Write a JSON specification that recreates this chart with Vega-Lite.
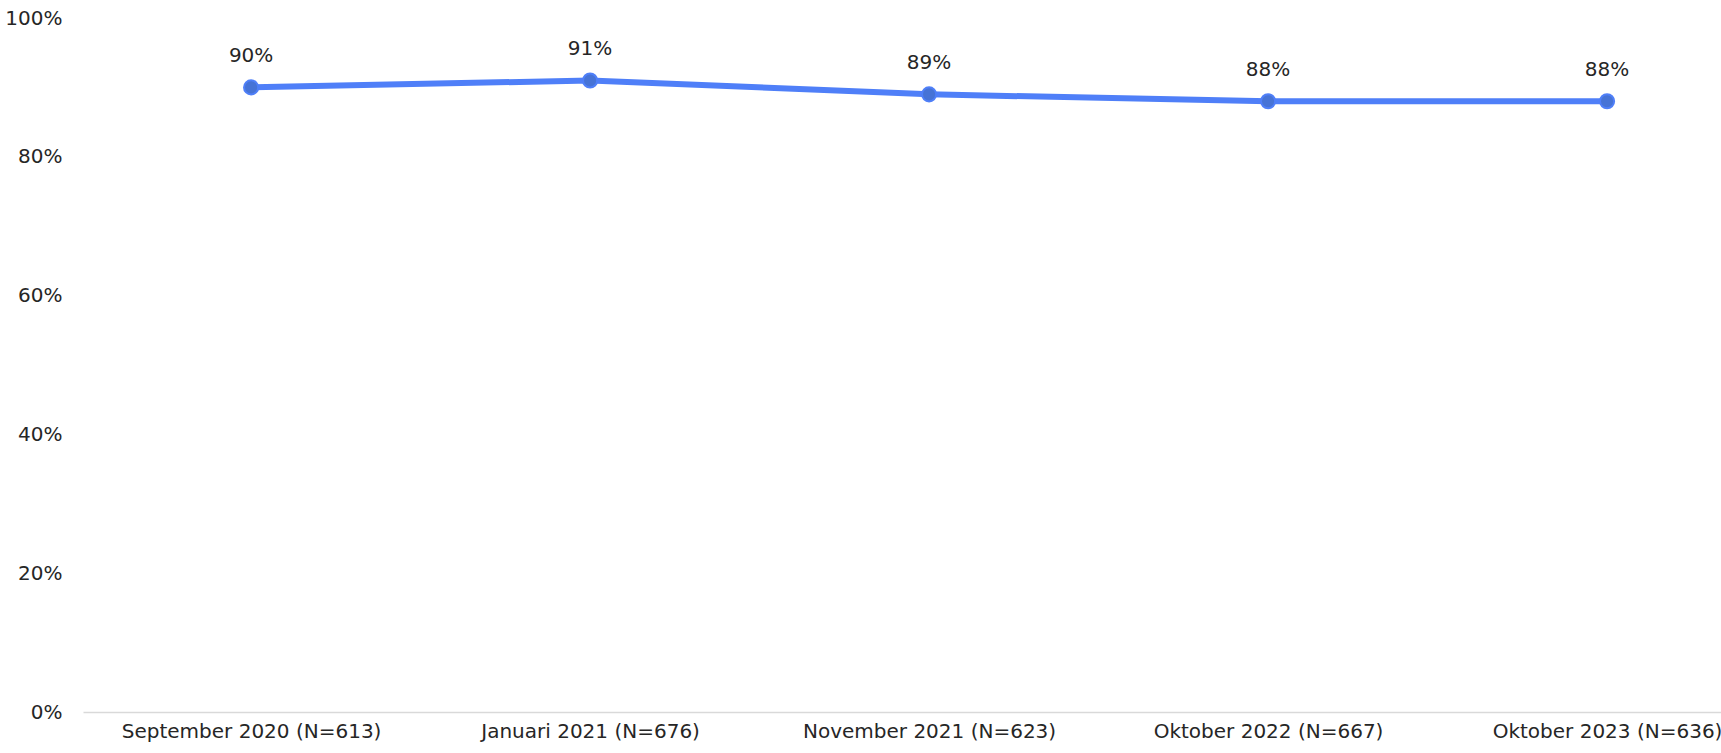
{
  "$schema": "https://vega.github.io/schema/vega-lite/v6.json",
  "autosize": "none",
  "width": 1638,
  "height": 694,
  "padding": {"left": 83, "top": 18, "right": 0, "bottom": 41},
  "background": "white",
  "config": {"view": {"stroke": null}, "font": "DejaVu Sans"},
  "data": {"values": [
    {"period": "September 2020 (N=613)", "value": 0.90},
    {"period": "Januari 2021 (N=676)", "value": 0.91},
    {"period": "November 2021 (N=623)", "value": 0.89},
    {"period": "Oktober 2022 (N=667)", "value": 0.88},
    {"period": "Oktober 2023 (N=636)", "value": 0.88}
  ]},
  "encoding": {
    "x": {"field": "period", "type": "ordinal", "sort": null,
      "scale": {"type": "point", "padding": 0.416, "align": 0.596},
      "axis": {"title": null, "labelAngle": 0, "ticks": false, "domainColor": "#d9d9d9", "domainWidth": 1.5,
        "labelFontSize": 20, "labelColor": "#262626", "labelPadding": 9, "labelLimit": 0, "grid": false}},
    "y": {"field": "value", "type": "quantitative",
      "scale": {"domain": [0, 1], "nice": false},
      "axis": {"title": null, "values": [0, 0.2, 0.4, 0.6, 0.8, 1], "format": ".0%", "grid": false, "domain": false, "ticks": false,
        "labelFontSize": 20, "labelColor": "#262626", "labelPadding": 21}}
  },
  "layer": [
    {"mark": {"type": "line", "color": "#4f7ff8", "strokeWidth": 6}},
    {"mark": {"type": "point", "filled": true, "fill": "#4673d6", "stroke": "#4f7ff8", "strokeWidth": 2, "size": 200, "opacity": 1}},
    {"mark": {"type": "text", "dy": -31, "fontSize": 20, "color": "#262626"},
      "encoding": {"text": {"field": "value", "type": "quantitative", "format": ".0%"}}}
  ]
}
